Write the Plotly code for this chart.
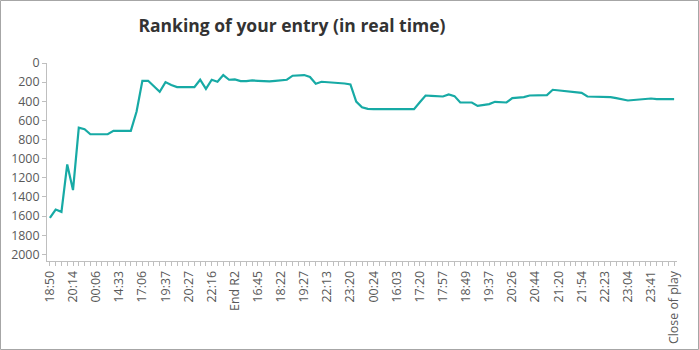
import plotly.graph_objects as go

# Snapshot labels (one shown every 4th snapshot on the axis)
tick_labels = ["18:50", "20:14", "00:06", "14:33", "17:06", "19:37", "20:27",
               "22:16", "End R2", "16:45", "18:22", "19:27", "22:13", "23:20",
               "00:24", "16:03", "17:20", "17:57", "18:49", "19:37", "20:26",
               "20:44", "21:20", "21:54", "22:23", "23:04", "23:41", "Close of play"]
label_step = 4

# Ranking at each snapshot
ranking = [1620, 1532, 1556, 1060, 1329, 675, 692, 745, 745, 745,
           745, 710, 710, 710, 710, 507, 186, 186, 245, 301,
           200, 231, 252, 252, 252, 252, 175, 270, 175, 196,
           126, 175, 172, 189, 189, 182, 186, 193, 193, 186,
           178, 175, 133, 126, 126, 147, 217, 196, 200, 203,
           207, 214, 224, 403, 462, 480, 483, 483, 483, 476,
           480, 483, 483, 483, 411, 340, 343, 350, 350, 329,
           346, 413, 413, 413, 448, 440, 430, 406, 410, 413,
           367, 362, 357, 340, 338, 338, 336, 280, 287, 294,
           301, 308, 312, 350, 350, 350, 350, 357, 367, 380,
           392, 387, 382, 377, 371, 378, 378, 378, 378]

snapshots = list(range(len(ranking)))
tick_positions = snapshots[::label_step]

fig = go.Figure(go.Scatter(
    x=snapshots, y=ranking, mode="lines",
    line=dict(color="#17AAA5", width=2.2),
    hoverinfo="skip",
))

axis_grey = "#BFBFBF"
label_font = dict(family="Open Sans, Noto Sans, sans-serif", size=12.4, color="#595959")

fig.update_layout(
    width=699, height=350,
    margin=dict(l=47, r=22, t=63, b=89),
    paper_bgcolor="white", plot_bgcolor="white",
    showlegend=False,
    title=dict(
        text="<b>Ranking of your entry (in real time)</b>",
        x=292 / 699, xanchor="center", xref="container",
        y=1 - 26 / 350, yanchor="middle",
        font=dict(family="Open Sans, Noto Sans, sans-serif", size=17.5, color="#333333"),
    ),
    xaxis=dict(
        range=[-0.5, len(ranking) - 0.5],
        tickmode="array", tickvals=tick_positions, ticktext=tick_labels,
        tickangle=-90, tickfont=label_font, automargin=False,
        showgrid=False, zeroline=False,
        showline=True, linecolor=axis_grey, linewidth=1,
        ticks="outside", ticklen=4, tickcolor=axis_grey,
        minor=dict(dtick=1, tick0=0, ticks="outside", ticklen=4,
                   tickcolor=axis_grey, showgrid=False),
    ),
    yaxis=dict(
        range=[2070, 0],
        tickmode="linear", tick0=0, dtick=200,
        tickfont=label_font, automargin=False,
        showgrid=False, zeroline=False,
        showline=True, linecolor=axis_grey, linewidth=1,
        ticks="outside", ticklen=4, tickcolor=axis_grey,
    ),
    shapes=[dict(
        type="rect", xref="paper", yref="paper",
        x0=-46.5 / 630, x1=1 + 21.5 / 630,
        y0=-88.5 / 198, y1=1 + 62.5 / 198,
        line=dict(color="#A6A6A6", width=1),
    )],
)

fig.write_html("out.html")
